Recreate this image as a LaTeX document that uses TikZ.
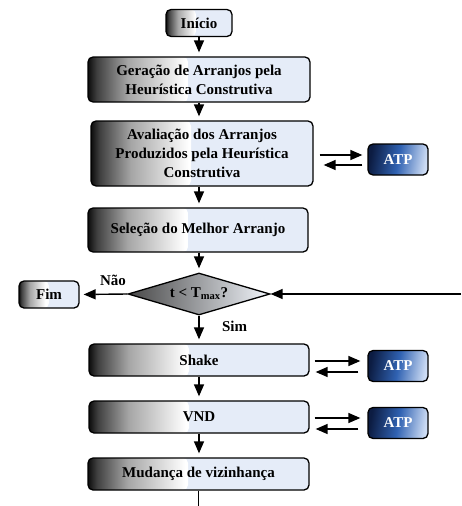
\documentclass[tikz,border=0pt]{standalone}
\usepackage{fontspec}
\setmainfont{Liberation Serif}
\usepackage{tikz}
\usetikzlibrary{shapes.geometric,arrows.meta}
\definecolor{boxBlue}{RGB}{229,236,248}
\definecolor{atpDark}{RGB}{12,28,66}
\definecolor{atpMid}{RGB}{48,98,178}
\definecolor{atpLight}{RGB}{205,220,244}
\pgfdeclarehorizontalshading{glossShade}{100bp}{color(0bp)=(black); color(25bp)=(black!95); color(27bp)=(black!75); color(34bp)=(black!35); color(47bp)=(white); color(70bp)=(boxBlue); color(100bp)=(boxBlue)}
\pgfdeclarehorizontalshading{atpShade}{100bp}{color(0bp)=(atpDark); color(25bp)=(atpDark); color(50bp)=(atpMid); color(75bp)=(atpLight); color(100bp)=(atpLight)}

\begin{document}
\begin{tikzpicture}[x=1pt,y=-1pt]
    \tikzstyle{every node} = [font=\fontsize{15}{19}\selectfont\bfseries]
    \tikzstyle{gloss} = [fill=boxBlue, path picture={
        \shade[shading=glossShade] (path picture bounding box.north west)
        rectangle ([xshift=#1pt]path picture bounding box.south west);}]
    \tikzstyle{block} = [draw, rectangle, line width=1.3pt, rounded corners=5pt, gloss=100, align=center, inner sep=0pt]
    \tikzstyle{small} = [block, gloss=30, minimum width=60pt, minimum height=27pt]
    \tikzstyle{atp} = [draw, rectangle, line width=1.3pt, rounded corners=5pt, shade, shading=atpShade, shading angle=-10, text=white, minimum width=60pt, minimum height=31pt]
    \tikzstyle{decision} = [draw, diamond, line width=1.3pt, left color=black!72, middle color=black!22, right color=boxBlue!50!white, inner sep=0pt, minimum width=142pt, minimum height=42pt, aspect=3.4]
    \tikzstyle{flow} = [-{Triangle[length=12pt,width=10pt]}, line width=1.4pt]
    \useasboundingbox (0,0) rectangle (461,506);
    % place nodes
    \node[small, minimum width=66pt](inicio) at (199,23) {Início};
    \node[block, minimum width=222pt, minimum height=45pt](geracao) at (199,79.5) {Geração de Arranjos pela\\Heurística Construtiva};
    \node[block, minimum width=222pt, minimum height=65pt](avaliacao) at (202,153.5) {Avaliação dos Arranjos\\Produzidos pela Heurística\\Construtiva};
    \node[block, minimum width=220pt, minimum height=44pt](selecao) at (198,230) {Seleção do Melhor Arranjo};
    \node[decision](teste) at (199,294) {t < T\textsubscript{max}?};
    \node[small](fim) at (49,294.5) {Fim};
    \node[block, minimum width=220pt, minimum height=32pt](shake) at (199,360) {Shake};
    \node[block, minimum width=220pt, minimum height=32pt](vnd) at (199,417) {VND};
    \node[block, minimum width=221pt, minimum height=32pt](mudanca) at (198.5,474) {Mudança de vizinhança};
    \node[atp](atpOne) at (398,159.5) {ATP};
    \node[atp](atpTwo) at (398,366) {ATP};
    \node[atp](atpThree) at (398,423) {ATP};
    \coordinate (retorno) at (461,294);
    \coordinate (saida) at (198.5,506);

    % Connections
    \draw[flow, shorten >=4pt] (inicio.south) -- (inicio.south |- geracao.north);
    \draw[flow, shorten >=4pt] (geracao.south) -- (geracao.south |- avaliacao.north);
    \draw[flow, shorten >=4pt] (geracao.south |- avaliacao.south) -- (geracao.south |- selecao.north);
    \draw[flow, shorten >=4pt] (teste.north |- selecao.south) -- (teste.north);
    \draw[flow, shorten >=4pt]
    (teste.west) -- node[pos=0.3, above, yshift=4pt]{Não} (fim.east);
    \draw[flow] (retorno) -- (teste.east);
    \draw[flow, shorten >=4pt]
    (teste.south) -- node[pos=0.38, right, xshift=19pt]{Sim} (teste.south |- shake.north);
    \draw[flow, shorten >=4pt] (shake.south) -- (vnd.north);
    \draw[flow, shorten >=4pt] (vnd.south) -- (mudanca.north -| vnd.south);
    \draw[line width=1.4pt] (mudanca.south) -- (saida);
    % ATP links
    \draw[flow, shorten <=6pt, shorten >=5pt] ([yshift=4.5pt]atpOne.west -| avaliacao.east) -- ([yshift=4.5pt]atpOne.west);
    \draw[flow, shorten <=5pt, shorten >=10pt] ([yshift=-5.5pt]atpOne.west) -- ([yshift=-5.5pt]atpOne.west -| avaliacao.east);
    \draw[flow, shorten <=5pt, shorten >=7pt] ([yshift=5pt]atpTwo.west -| shake.east) -- ([yshift=5pt]atpTwo.west);
    \draw[flow, shorten <=9pt, shorten >=6pt] ([yshift=-6pt]atpTwo.west) -- ([yshift=-6pt]atpTwo.west -| shake.east);
    \draw[flow, shorten <=5pt, shorten >=7pt] ([yshift=5pt]atpThree.west -| vnd.east) -- ([yshift=5pt]atpThree.west);
    \draw[flow, shorten <=9pt, shorten >=6pt] ([yshift=-6pt]atpThree.west) -- ([yshift=-6pt]atpThree.west -| vnd.east);
\end{tikzpicture}
\end{document}
